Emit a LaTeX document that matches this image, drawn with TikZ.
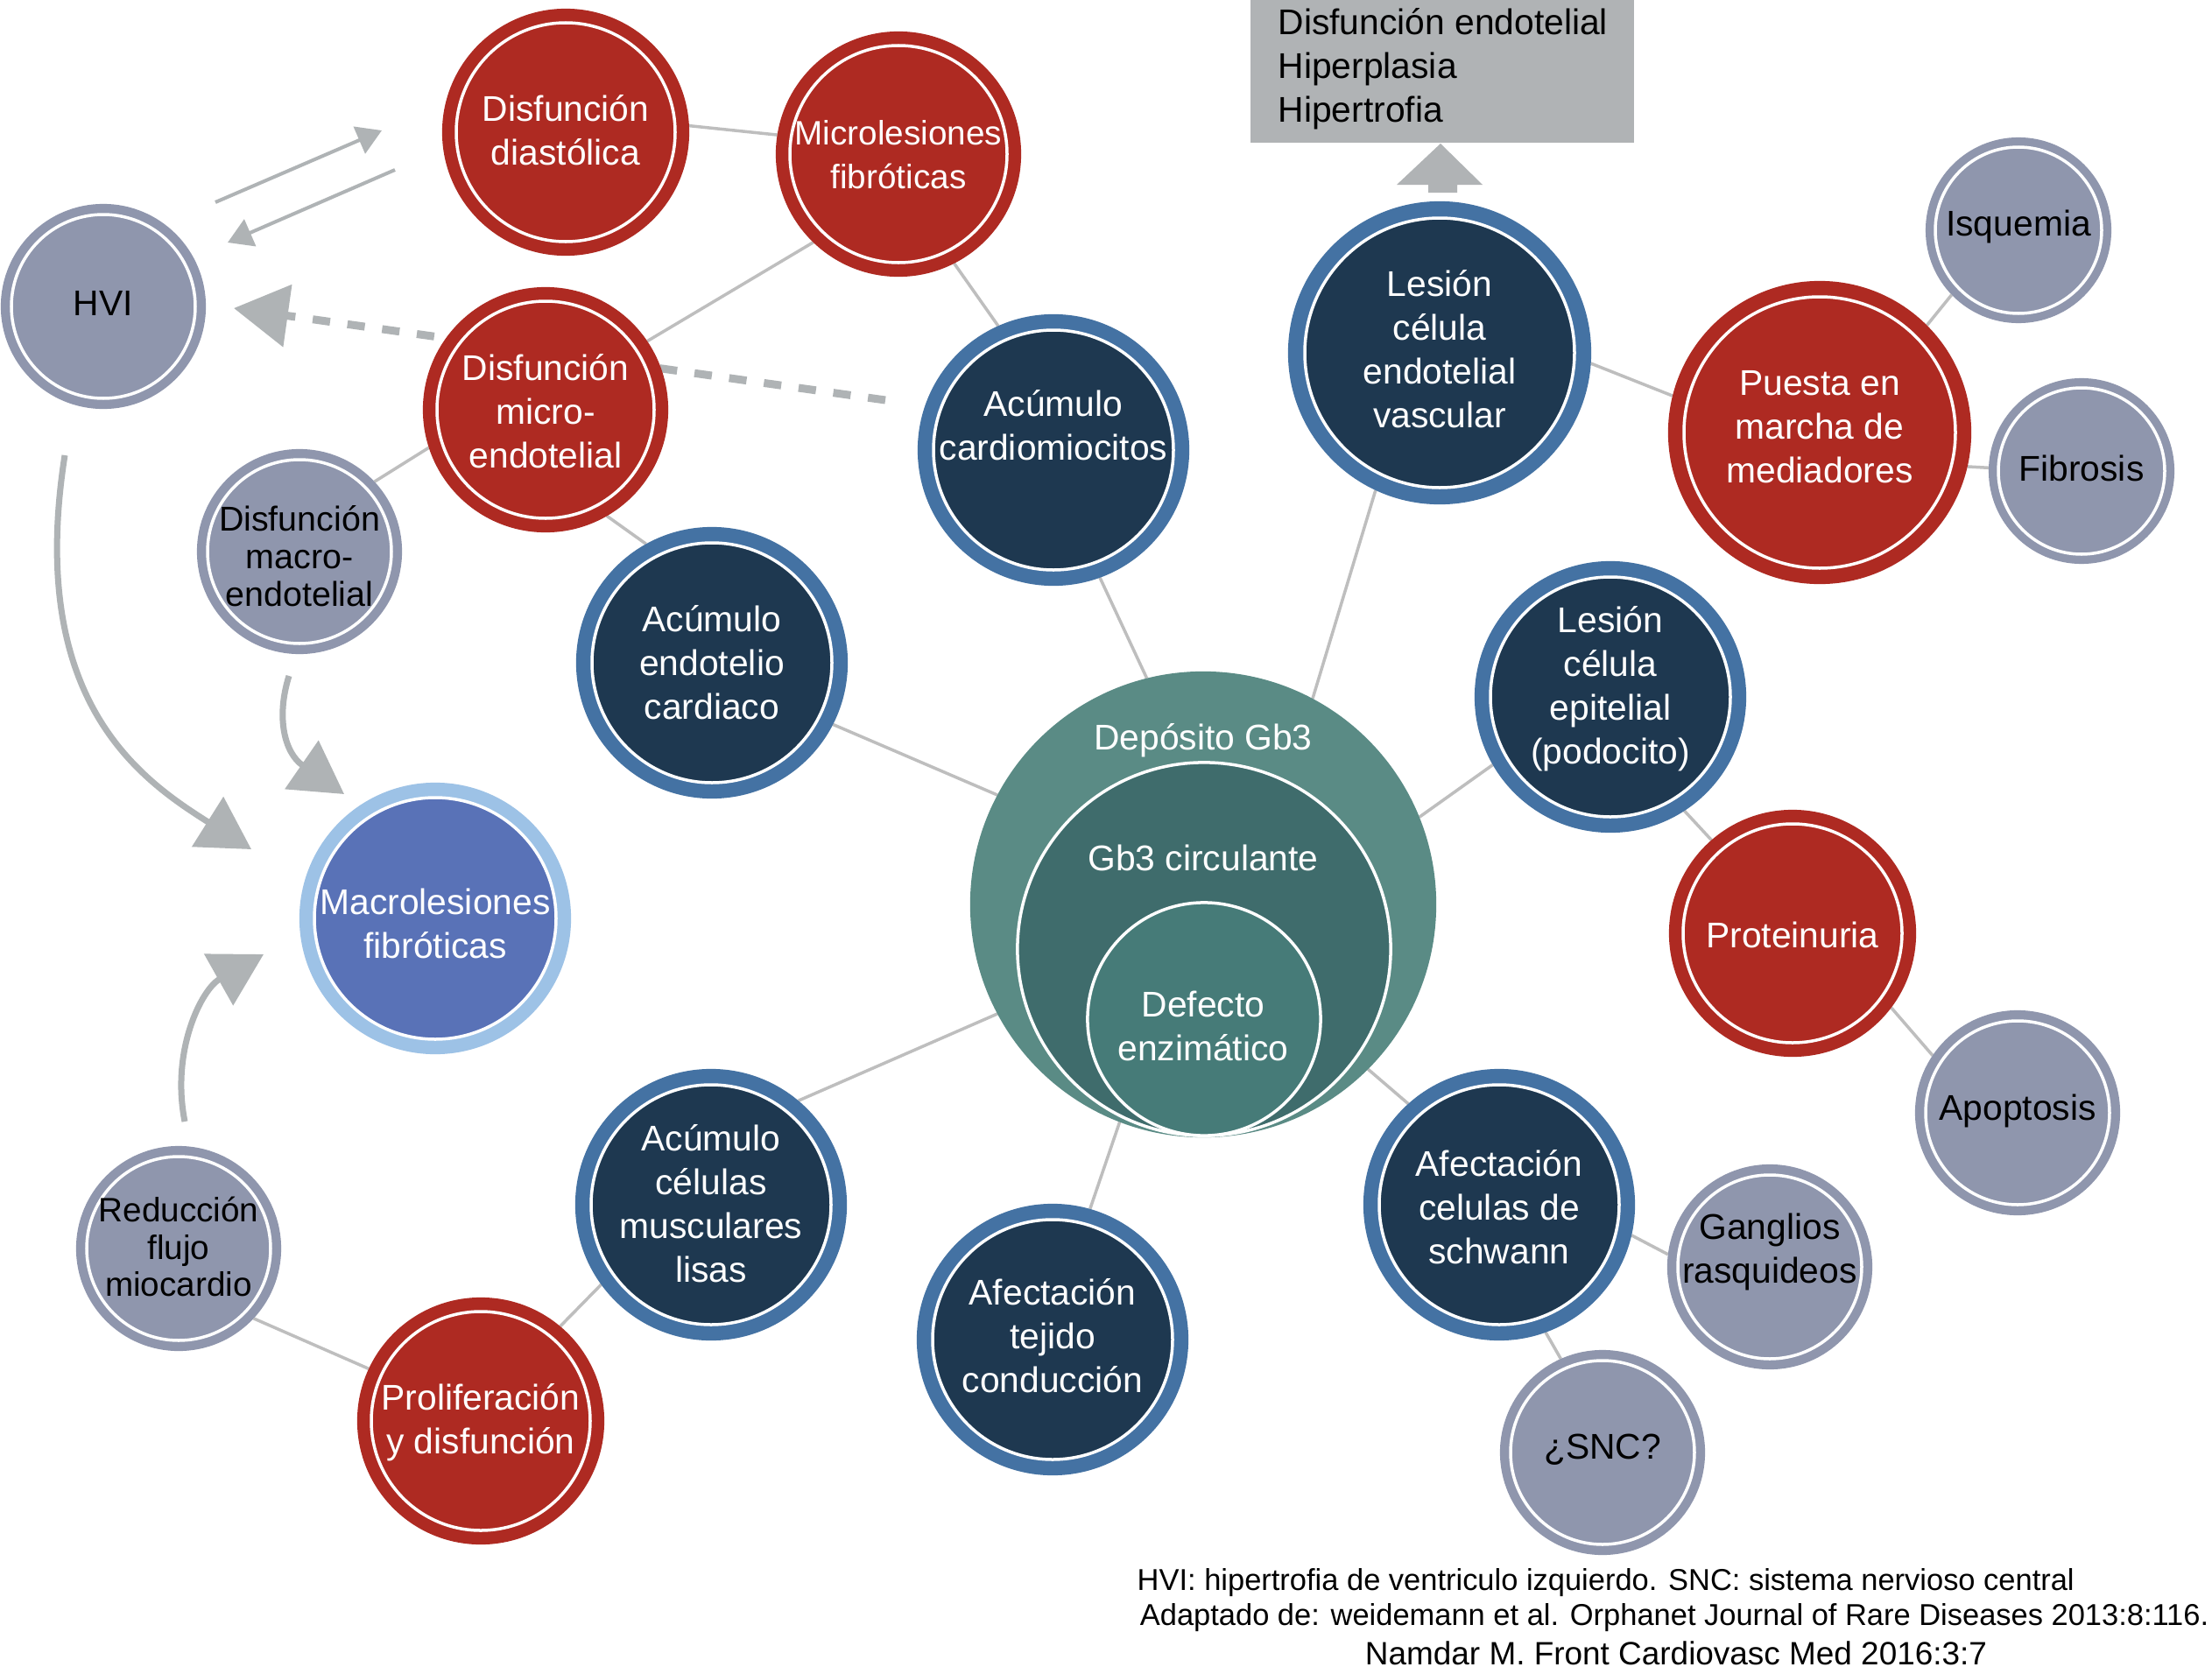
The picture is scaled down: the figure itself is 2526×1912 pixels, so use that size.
\documentclass[tikz,border=0pt]{standalone}
\usepackage{fontspec}
\setmainfont{Liberation Sans}
\usetikzlibrary{arrows.meta}
\pgfdeclarelayer{background}
\pgfsetlayers{background,main}
\definecolor{cRed}{HTML}{AE2A22}
\definecolor{cNavy}{HTML}{1E3850}
\definecolor{cRing}{HTML}{4472A3}
\definecolor{cGray}{HTML}{8F96AD}
\definecolor{cMacro}{HTML}{5972B7}
\definecolor{cMacroRing}{HTML}{9DC2E6}
\definecolor{cTealA}{HTML}{5A8B85}
\definecolor{cTealB}{HTML}{3F6C6C}
\definecolor{cTealC}{HTML}{467B78}
\definecolor{cBox}{HTML}{B0B3B5}
\definecolor{cArrow}{HTML}{AFB3B5}
\definecolor{cLine}{HTML}{BEBEBE}
\tikzset{
  bubshape/.style={circle, draw=none, inner sep=0pt, outer sep=0pt},
  wtext/.style={text=white, align=center, inner sep=0pt, font=\fontsize{11.6}{14.2}\selectfont},
  ktext/.style={text=black, align=center, inner sep=0pt, font=\fontsize{11.6}{14.2}\selectfont},
  conn/.style={draw=cLine, line width=0.035cm},
  thinarrow/.style={draw=cArrow, line width=0.04cm, -{Triangle[length=0.28cm, width=0.33cm]}},
  curvarrow/.style={draw=cArrow, line width=0.07cm, -{Triangle[length=0.59cm, width=0.66cm]}},
  dasharrow/.style={draw=cArrow, line width=0.09cm, dash pattern=on 0.2cm off 0.2cm, -{Triangle[length=0.62cm, width=0.7cm]}},
  foot/.style={text=black, inner sep=0pt, font=\fontsize{9.8}{11.4}\selectfont},
}
\newcommand{\bubble}[7]{%
  \node[bubshape, fill=#5, minimum size={#4*0.02cm}] (#1) at (#2,#3) {};
  \path[fill=#6, draw=white, line width=0.035cm] (#1.center) circle[radius={(#4-#7)*0.01cm}];
}
\begin{document}
\begin{tikzpicture}[x=0.01cm, y=-0.01cm]
\useasboundingbox (0,0) rectangle (2526,1912);

% central circles
\node[bubshape, fill=cTealA, minimum size=5.32cm] (gb3) at (1374,1033) {};
\node[bubshape, fill=cTealB, draw=white, line width=0.035cm, minimum size=4.26cm] (circ) at (1375,1084) {};
\node[bubshape, fill=cTealC, draw=white, line width=0.035cm, minimum size=2.66cm] (defe) at (1375,1164) {};
\node[wtext] (tgb3) at (1374,846) {Depósito Gb3};
\node[wtext] (tcirc) at (1374,980) {Gb3 circulante};
\node[wtext] (tdefe) at (1374,1172) {Defecto\\enzimático};

% bubbles
\bubble{diast}{646}{151}{141}{cRed}{cRed}{16}
\bubble{microfib}{1026}{176}{140}{cRed}{cRed}{16}
\bubble{hvi}{118}{350}{117}{cGray}{cGray}{12}
\bubble{microend}{623}{468}{140}{cRed}{cRed}{16}
\bubble{macroend}{342}{630}{117}{cGray}{cGray}{12}
\bubble{cardio}{1203}{514}{155}{cRing}{cNavy}{18}
\bubble{endocard}{813}{757}{155}{cRing}{cNavy}{18}
\bubble{macro}{497}{1049}{155}{cMacroRing}{cMacro}{17}
\bubble{lesvasc}{1644}{403}{173}{cRing}{cNavy}{19}
\bubble{puesta}{2078}{494}{173}{cRed}{cRed}{18}
\bubble{isq}{2305}{263}{106}{cGray}{cGray}{11}
\bubble{fib}{2377}{538}{106}{cGray}{cGray}{11}
\bubble{epit}{1839}{796}{155}{cRing}{cNavy}{18}
\bubble{prot}{2047}{1066}{141}{cRed}{cRed}{16}
\bubble{apop}{2304}{1271}{117}{cGray}{cGray}{12}
\bubble{schw}{1712}{1376}{155}{cRing}{cNavy}{18}
\bubble{gang}{2021}{1447}{117}{cGray}{cGray}{12}
\bubble{snc}{1830}{1659}{117}{cGray}{cGray}{12}
\bubble{tejido}{1202}{1530}{155}{cRing}{cNavy}{18}
\bubble{musc}{812}{1376}{155}{cRing}{cNavy}{18}
\bubble{prolif}{549}{1623}{141}{cRed}{cRed}{16}
\bubble{reduc}{204}{1426}{117}{cGray}{cGray}{12}

% texts
\node[wtext] (tdiast) at (646,149) {Disfunción\\diastólica};
\node[wtext, font=\fontsize{11}{14.2}\selectfont] (tmicrofib) at (1026,177) {Microlesiones\\fibróticas};
\node[ktext] (thvi) at (118,346) {HVI};
\node[wtext] (tmicroend) at (623,470) {Disfunción\\micro-\\endotelial};
\node[ktext, font=\fontsize{11.2}{12.2}\selectfont] (tmacroend) at (342,635) {Disfunción\\macro-\\endotelial};
\node[wtext] (tcardio) at (1203,486) {Acúmulo\\cardiomiocitos};
\node[wtext] (tendocard) at (813,757) {Acúmulo\\endotelio\\cardiaco};
\node[wtext] (tmacro) at (497,1055) {Macrolesiones\\fibróticas};
\node[wtext] (tlesvasc) at (1644,399) {Lesión\\célula\\endotelial\\vascular};
\node[wtext] (tpuesta) at (2078,488) {Puesta en\\marcha de\\mediadores};
\node[ktext] (tisq) at (2305,259) {Isquemia};
\node[ktext] (tfib) at (2377,535) {Fibrosis};
\node[wtext] (tepit) at (1839,787) {Lesión\\célula\\epitelial\\(podocito)};
\node[wtext] (tprot) at (2047,1068) {Proteinuria};
\node[ktext] (tapop) at (2304,1269) {Apoptosis};
\node[wtext] (tschw) at (1712,1379) {Afectación\\celulas de\\schwann};
\node[ktext] (tgang) at (2021,1430) {Ganglios\\rasquideos};
\node[ktext] (tsnc) at (1830,1656) {¿SNC?};
\node[wtext] (ttejido) at (1202,1526) {Afectación\\tejido\\conducción};
\node[wtext] (tmusc) at (812,1375) {Acúmulo\\células\\musculares\\lisas};
\node[wtext] (tprolif) at (549,1625) {Proliferación\\y disfunción};
\node[ktext, font=\fontsize{11}{12.2}\selectfont] (treduc) at (204,1424) {Reducción\\flujo\\miocardio};

% grey box with block arrow
\node[fill=cBox, anchor=north west, minimum width=4.38cm, minimum height=1.67cm, inner sep=0pt] (box) at (1427,-5) {};
\node[text=black, align=left, anchor=west, inner sep=0pt, font=\fontsize{11.6}{14.2}\selectfont] (tbox) at (1459,79) {Disfunción endotelial\\Hiperplasia\\Hipertrofia};
\fill[cBox] (1631,220) -- (1664,220) -- (1664,211) -- (1693,211) -- (1645,164) -- (1595,211) -- (1631,211) -- cycle;

% arrow end points
\coordinate (a1s) at (246,231);
\coordinate (a1e) at (436,149);
\coordinate (a2s) at (451,194);
\coordinate (a2e) at (260,277);
\coordinate (ds) at (1011,457);
\coordinate (de) at (267,352);
\coordinate (c1s) at (74,520);
\coordinate (c1e) at (287,970);
\coordinate (c2s) at (330,772);
\coordinate (c2e) at (393,907);
\coordinate (c3s) at (211,1281);
\coordinate (c3e) at (301,1090);

% connectors (background)
\begin{pgfonlayer}{background}
\fill[white] (0,0) rectangle (2526,1912);
\draw[conn] (diast.3.7) -- (microfib.171.6);
\draw[conn] (microfib.226) -- (microend.34);
\draw[conn] (microfib.297) -- (cardio.114.6);
\draw[conn] (microend.198) -- (macroend.43);
\draw[conn] (microend.300) -- (endocard.119);
\draw[conn] (cardio.290) -- (gb3.104.9);
\draw[conn] (endocard.333) -- (gb3.152);
\draw[conn] (lesvasc.245) -- (gb3.62);
\draw[conn] (lesvasc.356) -- (puesta.166);
\draw[conn] (puesta.45.5) -- (isq.224);
\draw[conn] (puesta.347) -- (fib.178);
\draw[conn] (epit.210) -- (gb3.22);
\draw[conn] (epit.303.4) -- (prot.131);
\draw[conn] (prot.323) -- (apop.146);
\draw[conn] (gb3.315) -- (schw.132);
\draw[conn] (schw.347) -- (gang.173);
\draw[conn] (schw.290) -- (snc.114);
\draw[conn] (gb3.249.4) -- (tejido.74);
\draw[conn] (gb3.208.6) -- (musc.50);
\draw[conn] (musc.216) -- (prolif.50);
\draw[conn] (prolif.155) -- (reduc.317);
\draw[dasharrow] (ds) -- (de);
\end{pgfonlayer}

% arrows
\draw[thinarrow] (a1s) -- (a1e);
\draw[thinarrow] (a2s) -- (a2e);
\draw[curvarrow] (c1s) .. controls (30,800) and (160,890) .. (c1e);
\draw[curvarrow] (c2s) .. controls (315,820) and (325,860) .. (c2e);
\draw[curvarrow] (c3s) .. controls (195,1200) and (230,1130) .. (c3e);

% footer
\node[foot, anchor=west] (f1) at (1298,1808) {HVI: hipertrofia de ventriculo izquierdo. SNC: sistema nervioso central};
\node[foot, anchor=east] (f2) at (2523,1848) {Adaptado de: weidemann et al. Orphanet Journal of Rare Diseases 2013:8:116.};
\node[foot, font=\fontsize{10.5}{11.4}\selectfont] (f3) at (1914,1888) {Namdar M. Front Cardiovasc Med 2016:3:7};
\end{tikzpicture}
\end{document}
